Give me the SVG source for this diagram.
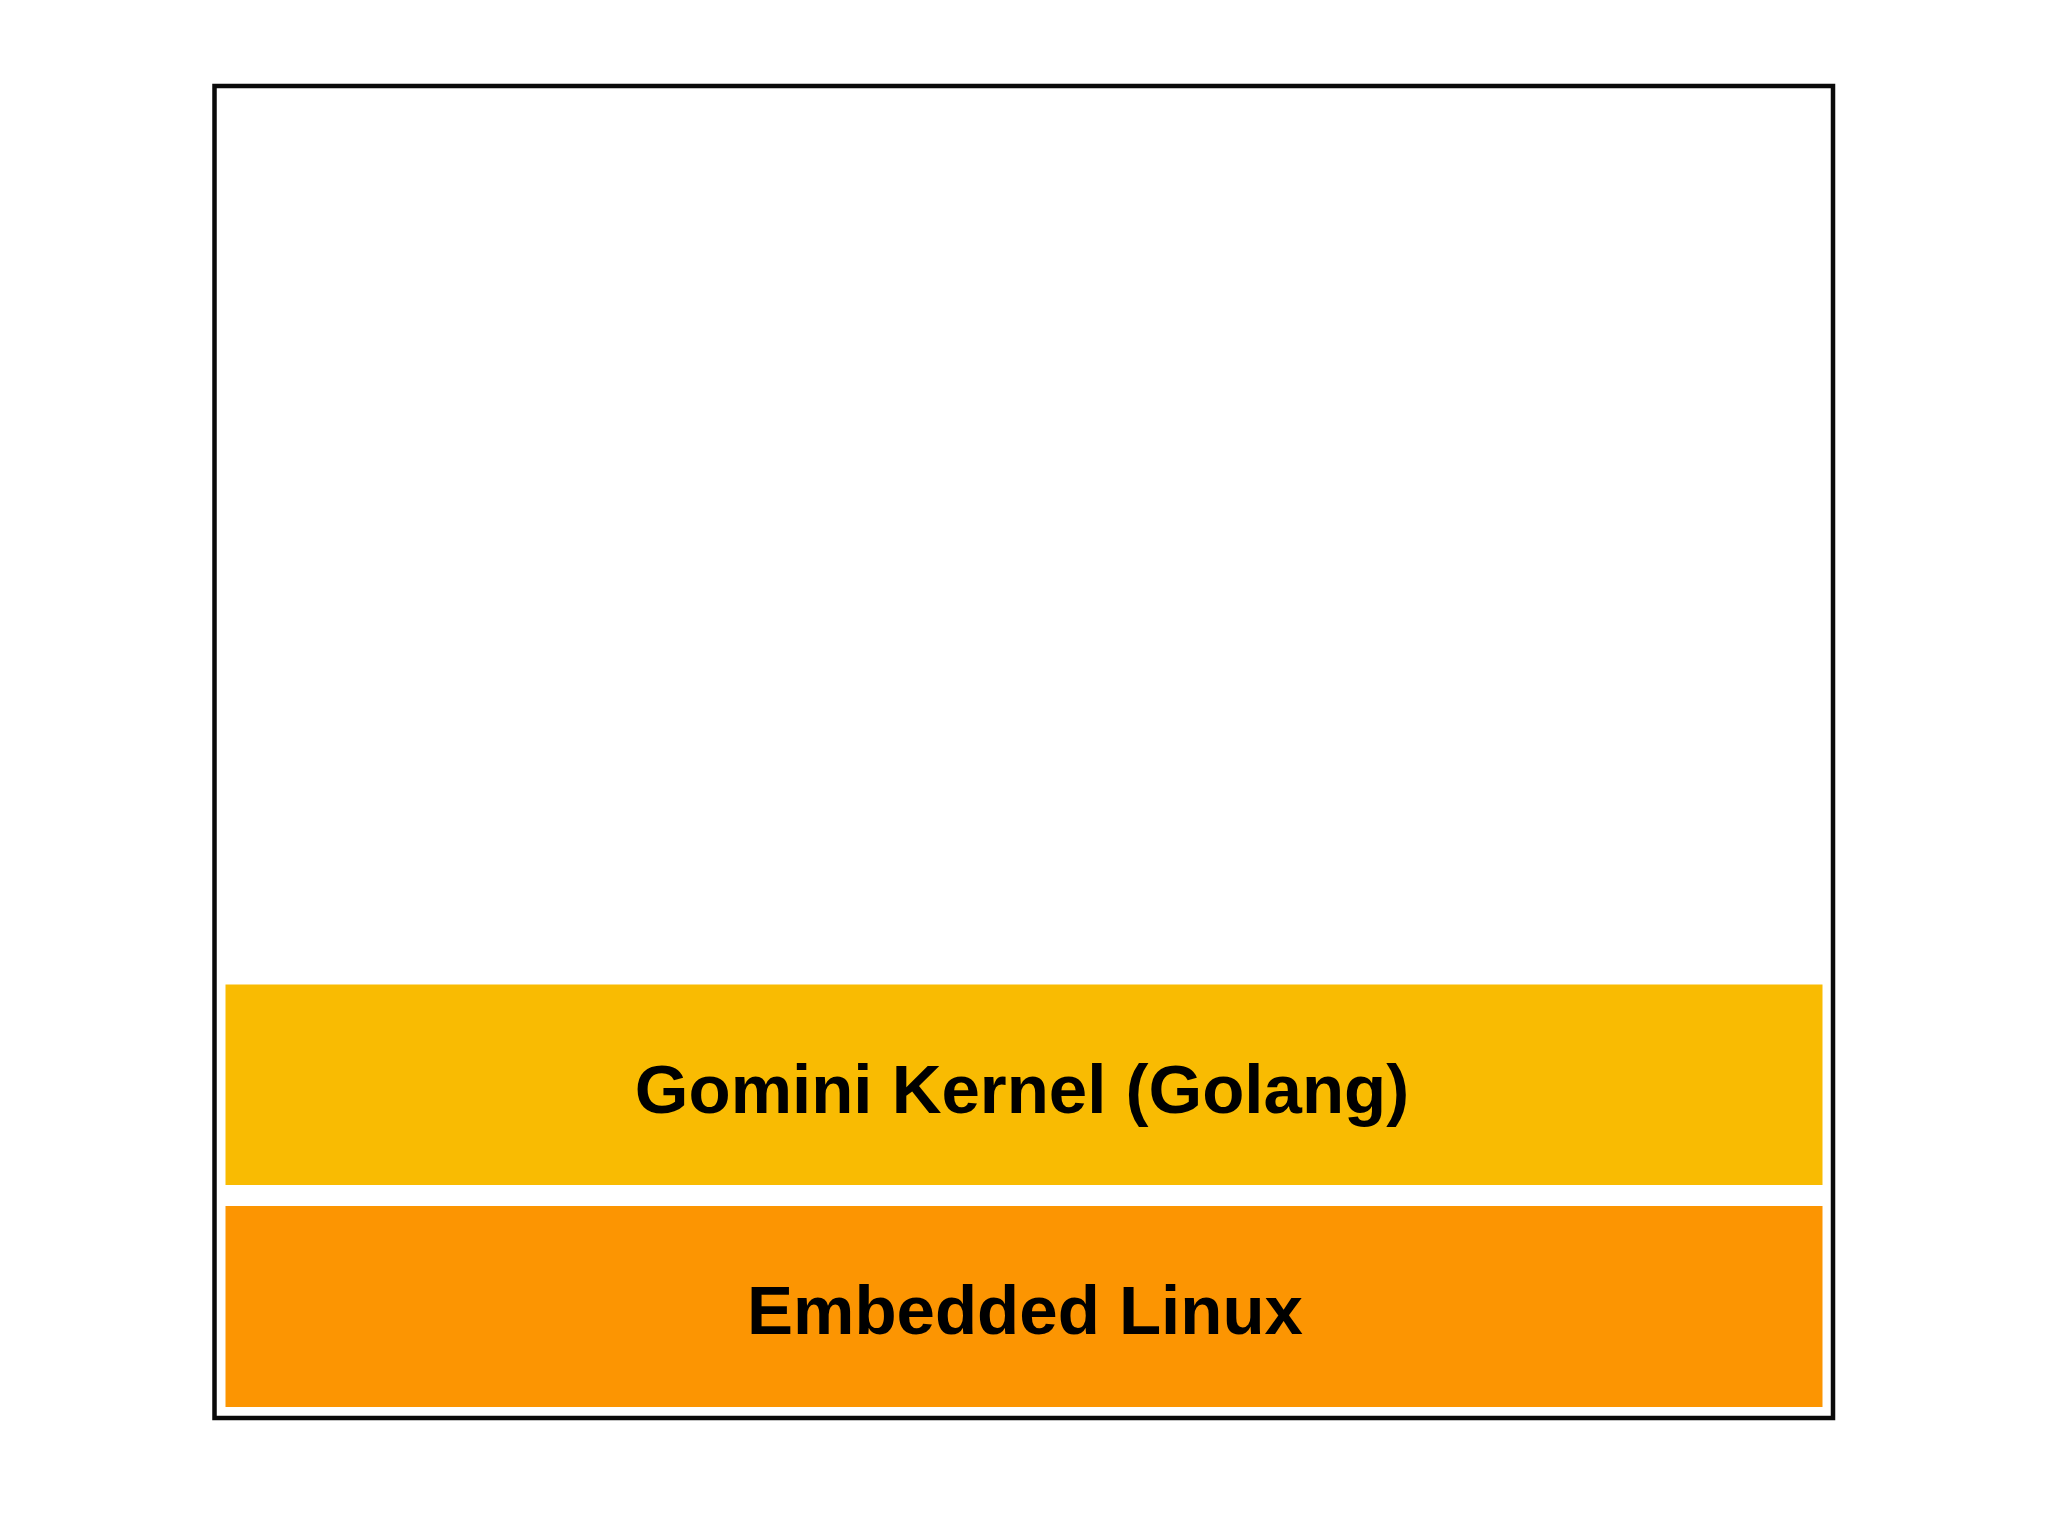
<svg xmlns="http://www.w3.org/2000/svg" width="2048" height="1536" viewBox="0 0 2048 1536">
  <style>
    .lbl { font-family: "Liberation Sans", Arial, Helvetica, sans-serif; font-weight: bold; font-size: 69px; fill: #000000; text-anchor: middle; }
  </style>
  <rect x="0" y="0" width="2048" height="1536" fill="#ffffff"/>
  <g id="frame">
    <rect x="214.5" y="86" width="1618.5" height="1332" fill="#ffffff" stroke="#0a0a0a" stroke-width="4.5"/>
  </g>
  <g id="gomini-kernel">
    <rect x="225.5" y="984.5" width="1597" height="200.5" fill="#F9BB02"/>
    <text class="lbl" x="1022" y="1113">Gomini Kernel (Golang)</text>
  </g>
  <g id="embedded-linux">
    <rect x="225.5" y="1206" width="1597" height="201" fill="#FC9502"/>
    <text class="lbl" x="1025" y="1334">Embedded Linux</text>
  </g>
  <g id="connectors"/>
</svg>
